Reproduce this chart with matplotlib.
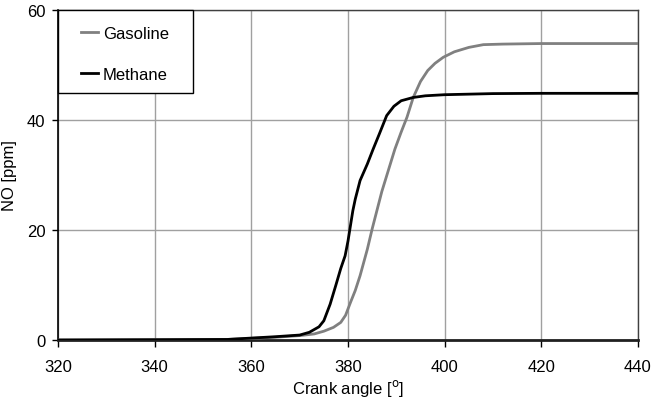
import matplotlib
matplotlib.use("Agg")
import matplotlib.pyplot as plt
from matplotlib.patches import Rectangle

plt.rcParams['font.family'] = ['Liberation Sans', 'DejaVu Sans']

gas_x = [320, 340, 355, 360, 365, 370, 373, 375, 377, 378.5, 379.5, 380.5, 381.5, 382.5, 384, 385, 387, 389.7, 391, 392.2, 393.5, 395, 396.5, 398, 399.7, 402, 405, 408, 412, 420, 430, 440]
gas_y = [0.0, 0.05, 0.1, 0.3, 0.5, 0.8, 1.1, 1.6, 2.3, 3.2, 4.5, 6.8, 9.0, 11.7, 16.5, 20.2, 27.0, 34.7, 37.8, 40.5, 44.1, 47.0, 49.0, 50.3, 51.4, 52.4, 53.2, 53.7, 53.8, 53.9, 53.9, 53.9]

met_x = [320, 340, 355, 360, 365, 370, 372, 374, 375, 376.3, 377.5, 378.5, 379.4, 380.0, 380.4, 381, 381.5, 382.5, 384, 385.2, 386.5, 388, 389.5, 391, 393.5, 396, 400, 410, 420, 430, 440]
met_y = [0.0, 0.05, 0.1, 0.35, 0.6, 0.9, 1.4, 2.4, 3.5, 6.5, 10.0, 13.0, 15.3, 18.0, 20.2, 23.5, 25.6, 29.0, 32.0, 34.7, 37.5, 40.8, 42.5, 43.5, 44.1, 44.4, 44.6, 44.8, 44.85, 44.85, 44.85]

xticks = [320, 340, 360, 380, 400, 420, 440]
yticks = [0, 20, 40, 60]

W, H = 580.0, 330.0
fig = plt.figure(figsize=(6.53, 4.02), dpi=100)
ax = fig.add_axes([58/653, 61/402, W/653, H/402])

ax.plot(gas_x, gas_y, color='#808080', lw=2.0, label='Gasoline', zorder=3)
ax.plot(met_x, met_y, color='black', lw=2.0, label='Methane', zorder=3)

ax.set_xlim(320, 440)
ax.set_ylim(0, 60)
ax.set_xticks(xticks)
ax.set_yticks(yticks)
ax.grid(True, color='#a0a0a0', lw=1.0)
ax.set_axisbelow(True)

for s in ['top', 'right']:
    ax.spines[s].set_color('#404040')
    ax.spines[s].set_linewidth(1.0)
ax.spines['left'].set_color('black')
ax.spines['left'].set_linewidth(1.2)
ax.spines['bottom'].set_color('#202020')
ax.spines['bottom'].set_linewidth(2.0)

ax.tick_params(axis='both', direction='out', width=1, labelsize=12, colors='black')
ax.tick_params(axis='x', length=5, pad=9)
ax.tick_params(axis='y', length=4.5, pad=4.5)
ax.set_xlabel('Crank angle [$^{\\mathrm{o}}$]', fontsize=12, labelpad=2)
ax.set_ylabel('NO [ppm]', fontsize=12, labelpad=7)

# legend box
ax.add_patch(Rectangle((0, 1 - 83/H), 135/W, 83/H, transform=ax.transAxes,
                       facecolor='white', edgecolor='black', lw=1.0, zorder=5, clip_on=False))
leg = ax.legend(loc='upper left', bbox_to_anchor=(23/W, 1 - 16/H), fontsize=12, handlelength=1.0,
                handletextpad=0.3, labelspacing=1.55, borderpad=0, borderaxespad=0,
                frameon=False)
leg.set_zorder(6)

fig.savefig('out.png', dpi=100)
